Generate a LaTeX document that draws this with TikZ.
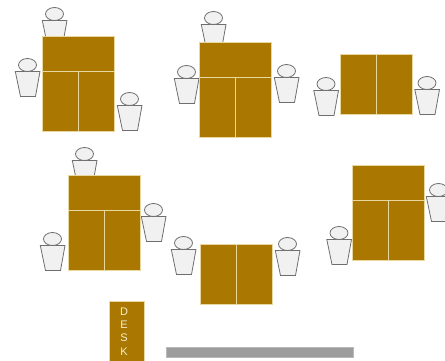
\documentclass[tikz,border=0pt]{standalone}
\usepackage{fontspec}
\setmainfont{Liberation Sans}
\definecolor{deskfill}{HTML}{AA7700}
\definecolor{deskline}{HTML}{E8D8A0}
\definecolor{desktext}{HTML}{F4F0D0}
\definecolor{personfill}{HTML}{F1F1F1}
\definecolor{personline}{HTML}{6E6E6E}
\tikzset{
  deskpart/.style={fill=deskfill,draw=deskline,line width=0.8pt},
  personpart/.style={fill=personfill,draw=personline,line width=0.8pt},
  bar/.style={fill=black!39,draw=black!28,line width=0.8pt},
  desklabel/.style={text=desktext,font=\fontsize{11}{11}\selectfont,inner sep=0pt},
}
% head centre x, y
\newcommand{\personat}[2]{%
  \draw[personpart] (#1-11.7,#2+6.5) -- (#1+13,#2+6.5) -- (#1+8.5,#2+31.5) -- (#1-6.5,#2+31.5) -- cycle;
  \draw[personpart] (#1+0.5,#2) ellipse [x radius=9,y radius=6.5];
}
% left, top, right, bottom, split y
\newcommand{\tallset}[5]{%
  \draw[deskpart] (#1,#2) rectangle (#3,#5);
  \draw[deskpart] (#1,#5) rectangle ({(#1+#3)/2},#4);
  \draw[deskpart] ({(#1+#3)/2},#5) rectangle (#3,#4);
}
\newcommand{\pairset}[3]{%
  \draw[deskpart] (#1,#2) rectangle (#1+36,#3);
  \draw[deskpart] (#1+36,#2) rectangle (#1+72,#3);
}
\begin{document}
\begin{tikzpicture}[x=1pt,y=-1pt]
\useasboundingbox (0,0) rectangle (445,360);
\clip (0,0) rectangle (445,360);
\personat{54}{14}
\personat{27}{65}
\personat{129}{99}
\tallset{42}{36}{114}{131}{71}
\personat{213}{18}
\personat{186}{72}
\personat{286}{71}
\tallset{199.5}{42}{271.5}{137.5}{77}
\personat{325.5}{84}
\personat{426.5}{83}
\pairset{340}{54.5}{114}
\personat{84}{154}
\personat{52}{239}
\personat{153}{210}
\tallset{68.5}{175.5}{140.5}{270.5}{210.5}
\personat{183}{243}
\personat{287}{244}
\pairset{200.5}{244.5}{304}
\personat{438}{190}
\personat{338.5}{233}
\tallset{352}{165}{424}{260.5}{200.5}
\draw[deskpart] (109,301) rectangle (144,362);
\node[desklabel] (d1) at (124,311.5) {D};
\node[desklabel] (d2) at (124,325) {E};
\node[desklabel] (d3) at (124,338) {S};
\node[desklabel] (d4) at (124,351.5) {K};
\draw[bar] (166.5,347) rectangle (353,357);
\end{tikzpicture}
\end{document}
